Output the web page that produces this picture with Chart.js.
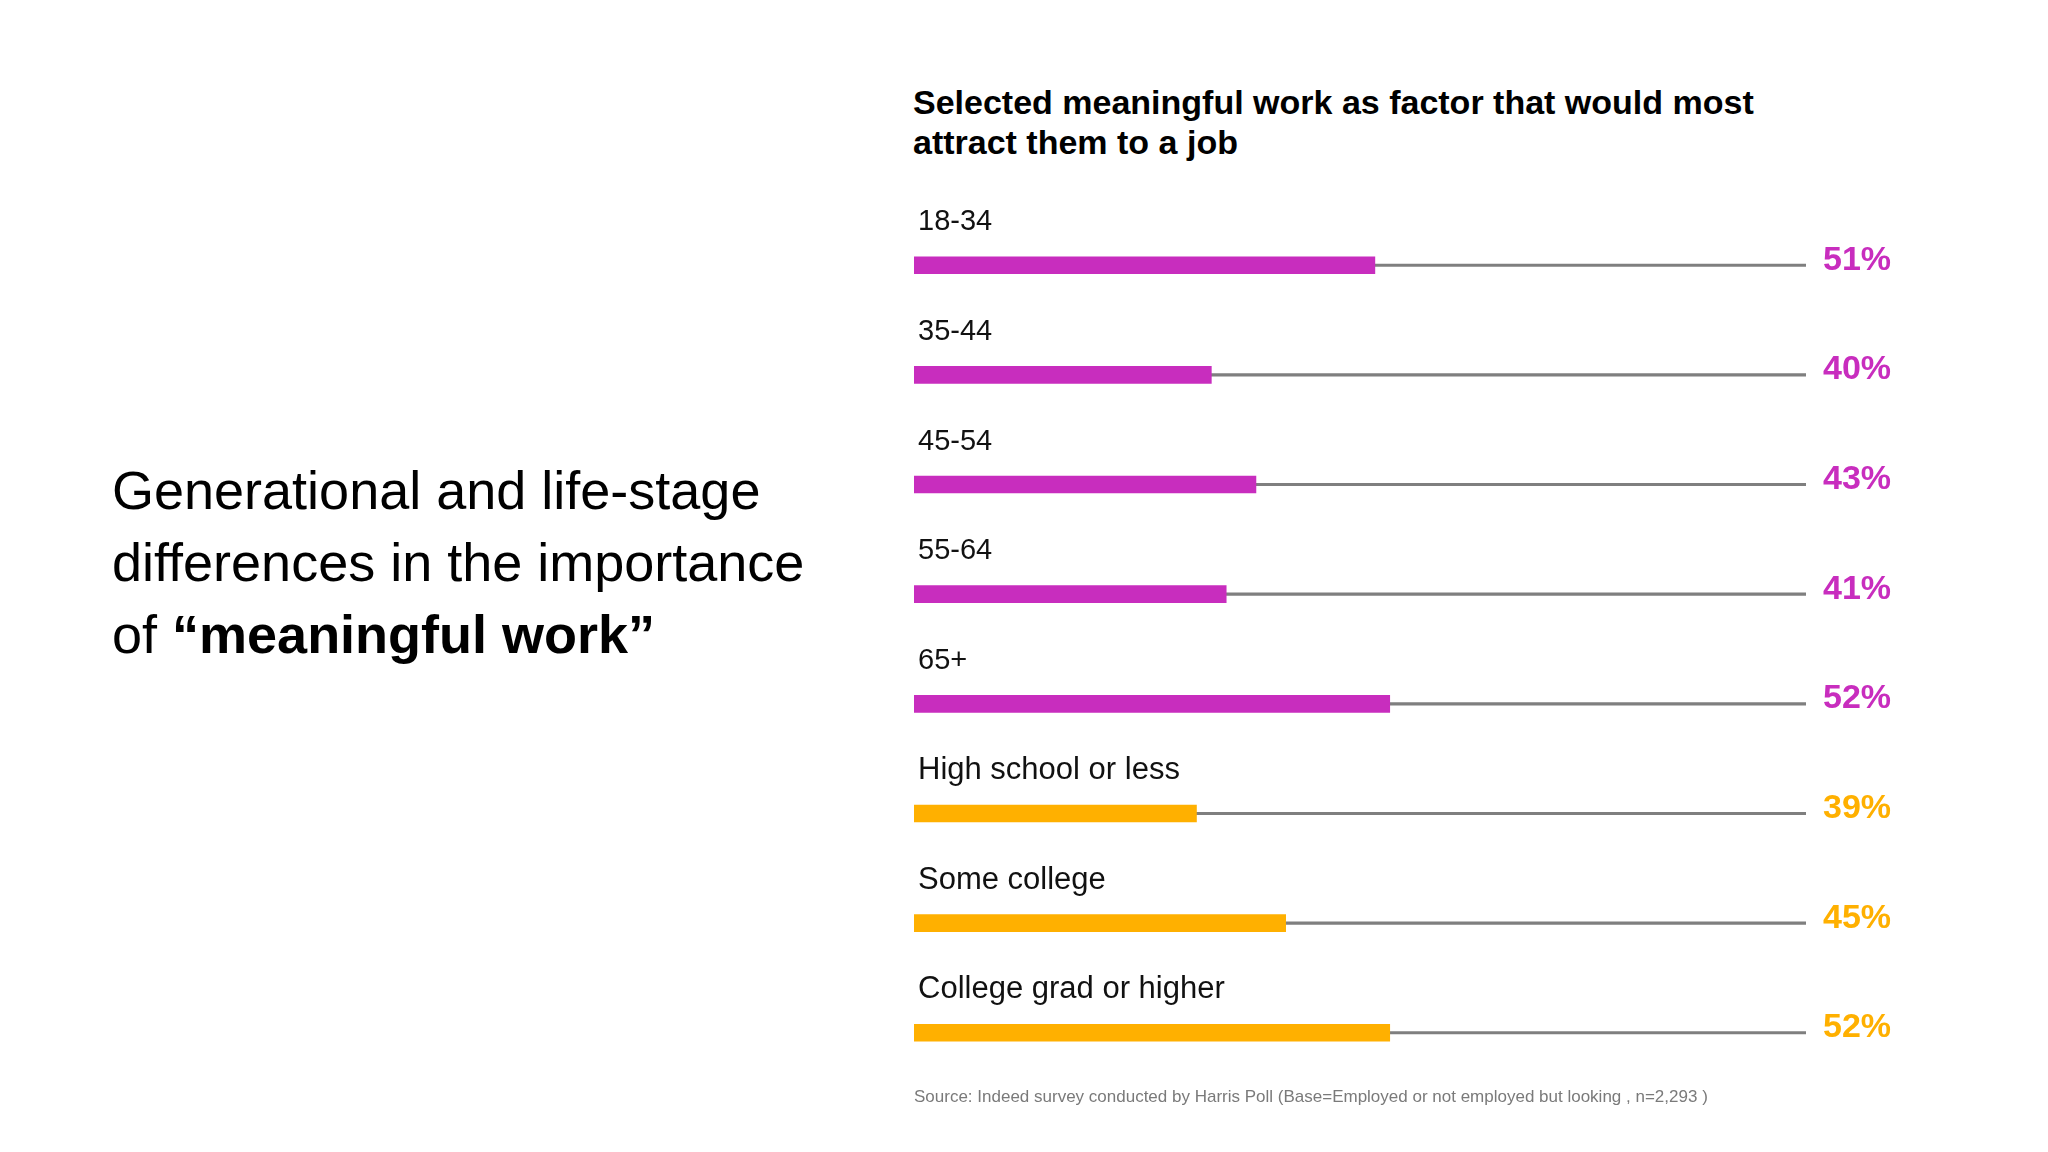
<!DOCTYPE html>
<html>
<head>
<meta charset="utf-8">
<script src="https://cdn.jsdelivr.net/npm/chart.js@4/dist/chart.umd.min.js"></script>
<style>
  html, body { margin: 0; padding: 0; background: #fff; }
  body { width: 2048px; height: 1152px; position: relative; overflow: hidden;
         font-family: 'Liberation Sans', Arial, sans-serif; color: #000; }
  #headline { position: absolute; left: 112px; top: 454px; font-size: 54px; line-height: 72px; }
  #title { position: absolute; left: 913px; top: 82px; font-size: 34px; line-height: 40px; font-weight: bold; }
  #source { position: absolute; left: 914px; top: 1087px; font-size: 17px; color: #7a7a7a; }
  #chart-box { position: absolute; left: 900px; top: 173px; width: 1001px; height: 952px; }
</style>
</head>
<body>
<div id="headline">Generational and life-stage<br>differences in the importance<br>of <b>&ldquo;meaningful work&rdquo;</b></div>
<div id="title">Selected meaningful work as factor that would most<br>attract them to a job</div>
<div id="chart-box"><canvas id="meaning-chart"></canvas></div>
<div id="source">Source: Indeed survey conducted by Harris Poll (Base=Employed or not employed but looking , n=2,293 )</div>

<script>
const categories = ['18-34', '35-44', '45-54', '55-64', '65+', 'High school or less', 'Some college', 'College grad or higher'];
const values = [51, 40, 43, 41, 52, 39, 45, 52];
const groups = ['age', 'age', 'age', 'age', 'age', 'edu', 'edu', 'edu'];
const valueLabels = values.map((v) => v + '%');

const axisMin = 20;
const axisMax = 80;

const groupColor = { age: '#C82DBE', edu: '#FFB000' };
const fontFamily = "'Liberation Sans', Arial, sans-serif";

function DrawChart() {
  let ctx = document.getElementById('meaning-chart').getContext('2d');
  let colors = groups.map((g) => groupColor[g]);
  new Chart(ctx, {
    type: 'bar',
    data: {
      labels: categories,
      datasets: [
        {
          label: 'Selected meaningful work',
          data: values,
          backgroundColor: colors,
          barThickness: 17,
          base: axisMin,
          grouped: false,
          yAxisID: 'y',
        },
        {
          // thin grey track out to the end of the scale
          label: 'track',
          data: categories.map(() => axisMax),
          backgroundColor: '#7f7f7f',
          barThickness: 2.5,
          base: axisMin,
          grouped: false,
          yAxisID: 'y',
        },
      ],
    },
    options: {
      indexAxis: 'y',
      responsive: true,
      maintainAspectRatio: false,
      animation: false,
      layout: { padding: { left: 14, top: 10, bottom: 13, right: 0 } },
      plugins: { legend: { display: false }, tooltip: { enabled: false } },
      scales: {
        x: { display: false, min: axisMin, max: axisMax },
        y: {
          position: 'left',
          offset: true,
          grid: { display: false, drawTicks: false },
          border: { display: false },
          afterFit: (s) => { s.width = 0; },
          ticks: {
            mirror: true,
            padding: 4,
            labelOffset: -43,
            color: '#111',
            font: (c) => ({ family: fontFamily, size: groups[c.index] === 'edu' ? 31 : 29 }),
          },
        },
        y2: {
          type: 'category',
          position: 'right',
          labels: valueLabels,
          offset: true,
          grid: { display: false, drawTicks: false },
          border: { display: false },
          afterFit: (s) => { s.width = 95; },
          ticks: {
            padding: 17,
            labelOffset: -5,
            color: (c) => colors[c.index],
            font: { family: fontFamily, size: 34, weight: 'bold' },
          },
        },
      },
    },
  });
}

DrawChart();
</script>
</body>
</html>
